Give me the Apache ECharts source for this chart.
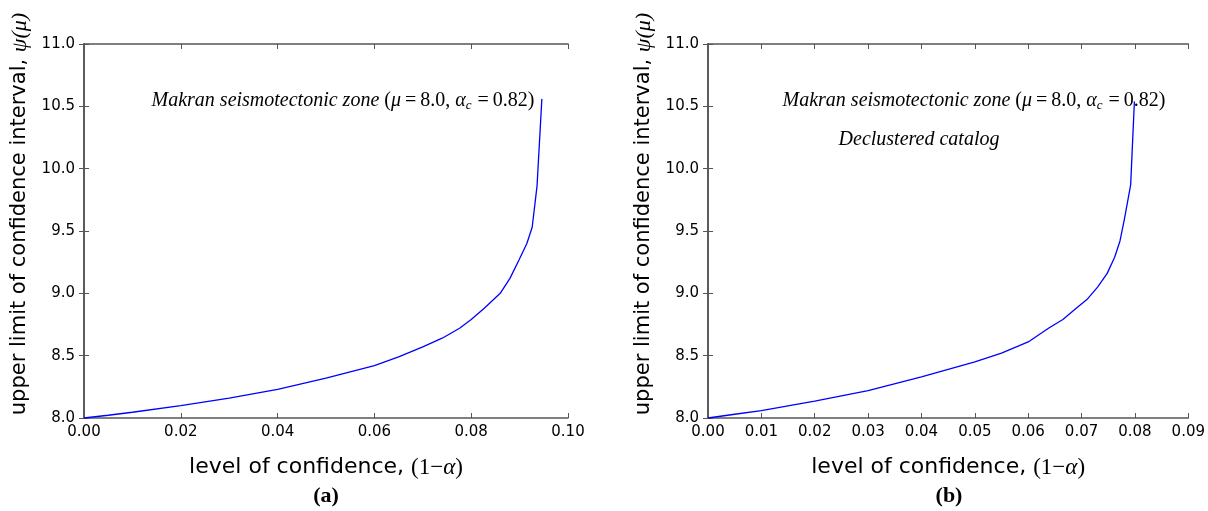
<!DOCTYPE html>
<html>
<head>
<meta charset="utf-8">
<script src="https://cdn.jsdelivr.net/npm/echarts@6/dist/echarts.min.js"></script>
<style>html,body{margin:0;padding:0;background:#fff}#c{width:1208px;height:511px}</style>
</head>
<body>
<div id="c"></div>
<script>
// Panel (a)
const xA = [0, 0.005, 0.01, 0.02, 0.03, 0.04, 0.05, 0.06, 0.065, 0.07, 0.074, 0.0776, 0.080, 0.0827, 0.086, 0.088, 0.0899, 0.0915, 0.0926, 0.0936, 0.0946];
const yA = [8.0, 8.022, 8.046, 8.10, 8.16, 8.23, 8.32, 8.42, 8.49, 8.57, 8.64, 8.72, 8.79, 8.88, 9.0, 9.12, 9.27, 9.40, 9.53, 9.86, 10.56];
// Panel (b)
const xB = [0, 0.005, 0.01, 0.02, 0.03, 0.04, 0.05, 0.055, 0.06, 0.0638, 0.0665, 0.069, 0.071, 0.073, 0.0748, 0.0762, 0.0772, 0.078, 0.0792, 0.0799];
const yB = [8.0, 8.03, 8.06, 8.135, 8.22, 8.33, 8.45, 8.52, 8.61, 8.72, 8.79, 8.88, 8.95, 9.05, 9.16, 9.29, 9.42, 9.59, 9.87, 10.54];
// Axis ranges / ticks
const xMaxA = 0.10, xStepA = 0.02;
const xMaxB = 0.09, xStepB = 0.01;
const yMin = 8, yMax = 11, yStep = 0.5;
const captions = ['(a)', '(b)'];
const noteDeclustered = 'Declustered catalog';

const chart = echarts.init(document.getElementById('c'));
const axisCol = '#555555';
const tickFont = {fontFamily: 'DejaVu Sans', fontSize: 15, color: '#000'};
const serif = 'Liberation Serif';

function xAxes(gi, max, step) {
  const base = {
    gridIndex: gi, type: 'value', min: 0, max: max, interval: step,
    axisLine: {show: true, lineStyle: {color: axisCol, width: 1.6}},
    axisTick: {show: true, inside: true, length: 5, lineStyle: {color: axisCol}},
    splitLine: {show: false}
  };
  return [
    Object.assign({}, base, {
      position: 'bottom',
      axisLabel: Object.assign({margin: 7, formatter: v => v.toFixed(2)}, tickFont),
      name: '{n|level of confidence, }{m|(1\u2212}{mi|\u03b1}{m|)}',
      nameLocation: 'middle', nameGap: 38,
      nameTextStyle: {rich: {
        n: {fontFamily: 'DejaVu Sans', fontSize: 22, color: '#000'},
        m: {fontFamily: serif, fontSize: 23, color: '#000'},
        mi: {fontFamily: serif, fontStyle: 'italic', fontSize: 23, color: '#000'}
      }}
    }),
    Object.assign({}, base, {position: 'top', axisLabel: {show: false}})
  ];
}
function yAxes(gi) {
  const base = {
    gridIndex: gi, type: 'value', min: yMin, max: yMax, interval: yStep,
    axisLine: {show: true, lineStyle: {color: axisCol, width: 1.6}},
    axisTick: {show: true, inside: true, length: 5, lineStyle: {color: axisCol}},
    splitLine: {show: false}
  };
  return [
    Object.assign({}, base, {
      position: 'left',
      axisLabel: Object.assign({margin: 9, formatter: v => v.toFixed(1)}, tickFont)
    }),
    Object.assign({}, base, {position: 'right', axisLabel: {show: false}})
  ];
}

const noteRich = {
  i: {fontFamily: serif, fontStyle: 'italic', fontSize: 20, color: '#000'},
  r: {fontFamily: serif, fontSize: 20, color: '#000'},
  s: {fontFamily: serif, fontStyle: 'italic', fontSize: 13, color: '#000', padding: [9, 1, 0, 0]}
};
const noteText = '{i|Makran seismotectonic zone }{r|(}{i|\u03bc}{r|\u2009=\u20098.0, }{i|\u03b1}{s|c}{r| =\u20090.82)}';
const yNameRich = {
  n: {fontFamily: 'DejaVu Sans', fontSize: 21, color: '#000'},
  m: {fontFamily: serif, fontStyle: 'italic', fontSize: 22, color: '#000'}
};
const yName = '{n|upper limit of confidence interval, }{m|\u03c8(\u03bc)}';

function textEl(x, y, text, rich, extra) {
  return Object.assign({type: 'text', x: x, y: y, style: {text: text, rich: rich, align: 'center', verticalAlign: 'middle', fill: '#000'}}, extra || {});
}

const option = {
  animation: false,
  backgroundColor: '#fff',
  grid: [
    {left: 84, top: 44, width: 484, height: 374},
    {left: 708, top: 44, width: 483, height: 374}
  ],
  xAxis: xAxes(0, xMaxA, xStepA).concat(xAxes(1, xMaxB, xStepB)),
  yAxis: yAxes(0).concat(yAxes(1)),
  series: [
    {type: 'line', xAxisIndex: 0, yAxisIndex: 0, data: xA.map((x, i) => [x, yA[i]]),
     showSymbol: false, smooth: false, lineStyle: {color: '#0000ff', width: 1.3}},
    {type: 'line', xAxisIndex: 2, yAxisIndex: 2, data: xB.map((x, i) => [x, yB[i]]),
     showSymbol: false, smooth: false, lineStyle: {color: '#0000ff', width: 1.3}}
  ],
  graphic: [
    textEl(343, 101, noteText, noteRich),
    textEl(974, 101, noteText, noteRich),
    textEl(919, 140, '{i|' + noteDeclustered + '}', noteRich),
    textEl(20, 214, yName, yNameRich, {rotation: Math.PI / 2}),
    textEl(644, 214, yName, yNameRich, {rotation: Math.PI / 2}),
    {type: 'text', x: 326, y: 496, style: {text: captions[0], font: 'bold 22px "Liberation Serif"', fill: '#000', align: 'center', verticalAlign: 'middle'}},
    {type: 'text', x: 949, y: 496, style: {text: captions[1], font: 'bold 22px "Liberation Serif"', fill: '#000', align: 'center', verticalAlign: 'middle'}}
  ]
};
chart.setOption(option);
</script>
</body>
</html>
